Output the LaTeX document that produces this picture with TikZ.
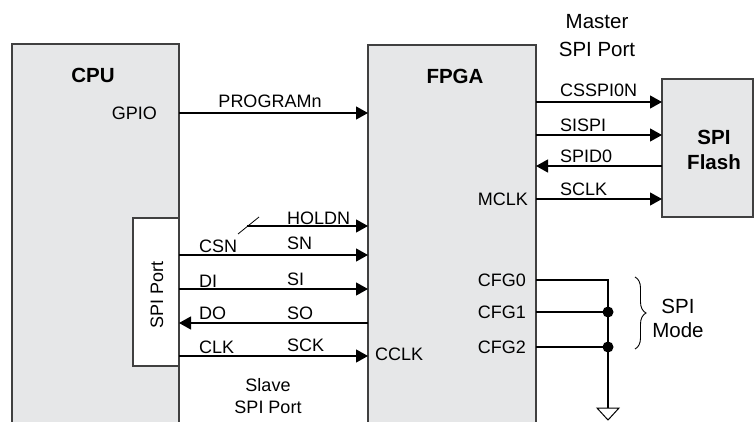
\documentclass[tikz,border=0pt]{standalone}
\usepackage{fontspec}
\setmainfont{Liberation Sans}
\usetikzlibrary{arrows.meta,decorations.pathreplacing}
\definecolor{boxgray}{HTML}{E6E7E8}
\definecolor{edgec}{HTML}{404040}
\begin{document}
\begin{tikzpicture}[x=1pt,y=-1pt,
  box/.style={draw=edgec, line width=1.3pt, fill=boxgray, anchor=north west, inner sep=0pt, outer sep=0pt},
  sig/.style={line width=1.2pt, -{Triangle[length=12pt,width=13pt]}},
  wire/.style={line width=1.2pt},
  lbl/.style={inner sep=0pt, font=\fontsize{18}{21}\selectfont},
  title/.style={inner sep=0pt, font=\fontsize{20.5}{25}\selectfont\bfseries, align=center},
]
\useasboundingbox (0,0) rectangle (754,422);
\clip (0,0) rectangle (754,422);
% blocks
\node[box, minimum width=167pt, minimum height=400pt] (cpu) at (12,44) {};
\node[box, minimum width=168pt, minimum height=400pt] (fpga) at (368,45) {};
\node[box, minimum width=91pt, minimum height=138pt] (flash) at (662,79) {};
\node[box, fill=white, minimum width=46pt, minimum height=148pt] (spiport) at (133,218) {};
% titles
\node[title] (cpuT) at (93,75) {CPU};
\node[title] (fpgaT) at (455,76) {FPGA};
\node[title] (flashT) at (714,150) {SPI\\Flash};
\node[lbl, rotate=90] (spiportT) at (157,295) {SPI Port};
% GPIO / PROGRAMn
\node[lbl, anchor=east] (gpio) at (157,113) {GPIO};
\draw[sig] (cpu.east |- gpio) -- (fpga.west |- gpio);
\node[lbl, anchor=base] (prog) at (270,108) {PROGRAMn};
% HOLDN
\coordinate (holdS) at (247,226);
\coordinate (slashA) at (238,234);
\coordinate (slashB) at (259,217);
\draw[sig] (holdS) -- (fpga.west |- holdS);
\draw[line width=0.8pt] (slashA) -- (slashB);
\node[lbl, anchor=base west] (holdT) at (287,224) {HOLDN};
% slave SPI
\coordinate (ySN) at (0,255);
\coordinate (ySI) at (0,289);
\coordinate (ySO) at (0,323);
\coordinate (ySCK) at (0,356);
\draw[sig] (spiport.east |- ySN) -- (fpga.west |- ySN);
\draw[sig] (spiport.east |- ySI) -- (fpga.west |- ySI);
\draw[sig] (fpga.west |- ySO) -- (spiport.east |- ySO);
\draw[sig] (spiport.east |- ySCK) -- (fpga.west |- ySCK);
\node[lbl, anchor=base west] (csn) at (199,252.5) {CSN};
\node[lbl, anchor=base west] (sn) at (287,249.5) {SN};
\node[lbl, anchor=base west] (di) at (199,287) {DI};
\node[lbl, anchor=base west] (si) at (287,285) {SI};
\node[lbl, anchor=base west] (do) at (199,319.5) {DO};
\node[lbl, anchor=base west] (so) at (287,319.5) {SO};
\node[lbl, anchor=base west] (clk) at (199,353.5) {CLK};
\node[lbl, anchor=base west] (sck) at (287,351) {SCK};
\node[lbl, anchor=west] (cclk) at (375,354) {CCLK};
\node[lbl, align=center, font=\fontsize{18}{22}\selectfont] (slaveT) at (268,396) {Slave\\SPI Port};
% master SPI
\node[lbl, align=center, font=\fontsize{20.5}{27.5}\selectfont] (masterT) at (597,35.5) {Master\\SPI Port};
\coordinate (yCS) at (0,102);
\coordinate (ySIS) at (0,135);
\coordinate (ySD) at (0,166);
\coordinate (ySC) at (0,199);
\draw[sig] (fpga.east |- yCS) -- (flash.west |- yCS);
\draw[sig] (fpga.east |- ySIS) -- (flash.west |- ySIS);
\draw[sig] (flash.west |- ySD) -- (fpga.east |- ySD);
\draw[sig] (fpga.east |- ySC) -- (flash.west |- ySC);
\node[lbl, anchor=base west] (csspi) at (560,97) {CSSPI0N};
\node[lbl, anchor=base west] (sispi) at (560,132) {SISPI};
\node[lbl, anchor=base west] (spid) at (560,163) {SPID0};
\node[lbl, anchor=base west] (sclk) at (560,195) {SCLK};
\node[lbl, anchor=east] (mclk) at (528,199) {MCLK};
% CFG
\node[lbl, anchor=east] (cfg0) at (526,280) {CFG0};
\node[lbl, anchor=east] (cfg1) at (526,312) {CFG1};
\node[lbl, anchor=east] (cfg2) at (526,347) {CFG2};
\coordinate (bus) at (608,280);
\coordinate (gnd) at (608,408);
\draw[wire] (fpga.east |- cfg0) -- (bus) -- (gnd);
\draw[wire] (fpga.east |- cfg1) -- (bus |- cfg1);
\draw[wire] (fpga.east |- cfg2) -- (bus |- cfg2);
\fill (bus |- cfg1) circle (5.5);
\fill (bus |- cfg2) circle (5.5);
\draw[line width=1pt, line join=miter] (gnd) ++(-11,0) -- ++(22,0) -- ++(-11,12) -- cycle;
\draw[decorate, decoration={brace, amplitude=11pt}, line width=0.9pt] (635,277) -- (635,349);
\node[lbl, align=center, font=\fontsize{20.5}{24}\selectfont] (modeT) at (678,318) {SPI\\Mode};
\end{tikzpicture}
\end{document}
